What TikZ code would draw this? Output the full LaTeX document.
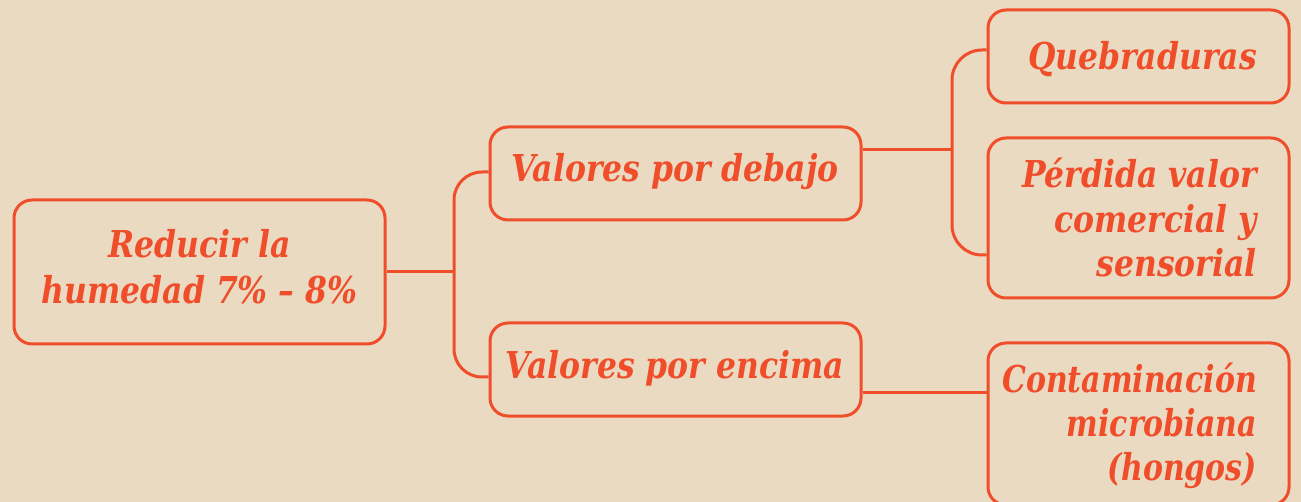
\documentclass[tikz,border=0pt]{standalone}
\usepackage{fontspec}
\setmainfont{DejaVu Serif}[FakeStretch=0.85]
\newfontfamily\narrowserif{DejaVu Serif}[FakeStretch=0.81]
\definecolor{org}{RGB}{240,78,43}
\definecolor{bg}{RGB}{234,218,194}
\begin{document}
\begin{tikzpicture}[x=1pt,y=-1pt,
  box/.style={draw=org, line width=3pt, rounded corners=18pt, inner sep=0pt},
  txt/.style={text=org, font=\fontsize{37}{44.5}\selectfont\bfseries\itshape, inner sep=0pt},
  conn/.style={draw=org, line width=3pt}]
\useasboundingbox (0,0) rectangle (1301,502);
\fill[bg] (0,0) rectangle (1301,502);
\clip (0,0) rectangle (1301,502);
% boxes
\node[box, minimum width=371pt, minimum height=144pt] (root) at (199.5,272) {};
\node[box, minimum width=371pt, minimum height=93pt] (deb) at (675.5,173.5) {};
\node[box, minimum width=371pt, minimum height=93pt] (enc) at (675.5,369.5) {};
\node[box, minimum width=301pt, minimum height=93pt] (qb) at (1138.5,56.5) {};
\node[box, minimum width=301pt, minimum height=160pt] (per) at (1138.5,218) {};
\node[box, minimum width=301pt, minimum height=162pt] (con) at (1138.5,424) {};
% texts (base anchor of a multi-line text = its last line)
\node[txt, align=center, anchor=base, font=\fontsize{37}{46}\selectfont\bfseries\itshape] (roott) at (199.5,304) {Reducir la\\humedad 7\% – 8\%};
\node[txt, anchor=base] (debt) at (675,182) {Valores por debajo};
\node[txt, anchor=base] (enct) at (675,378) {Valores por encima};
\node[txt, anchor=base east] (qbt) at (1257,70) {Quebraduras};
\node[txt, align=right, anchor=base east] (pert) at (1257,277) {Pérdida valor\\comercial y\\sensorial};
\node[txt, align=right, anchor=base east, font=\fontsize{37}{44}\selectfont\narrowserif\bfseries\itshape] (cont) at (1257,480) {Contaminación\\microbiana\\(hongos)};
% connectors
\coordinate (j1) at (454,272);
\coordinate (j2) at (952,150);
\draw[conn] (root.east) -- (j1);
\draw[conn, rounded corners=28pt] (j1) |- ([yshift=1.5pt]deb.west);
\draw[conn, rounded corners=28pt] (j1) |- ([yshift=-7.5pt]enc.west);
\draw[conn] ([yshift=23.5pt]deb.east) -- (j2);
\draw[conn, rounded corners=30pt] (j2) |- ([yshift=6.5pt]qb.west);
\draw[conn, rounded corners=30pt] (j2) |- ([yshift=-37pt]per.west);
\draw[conn] ([yshift=-23pt]enc.east) -- ([yshift=31.5pt]con.west);
\end{tikzpicture}
\end{document}
